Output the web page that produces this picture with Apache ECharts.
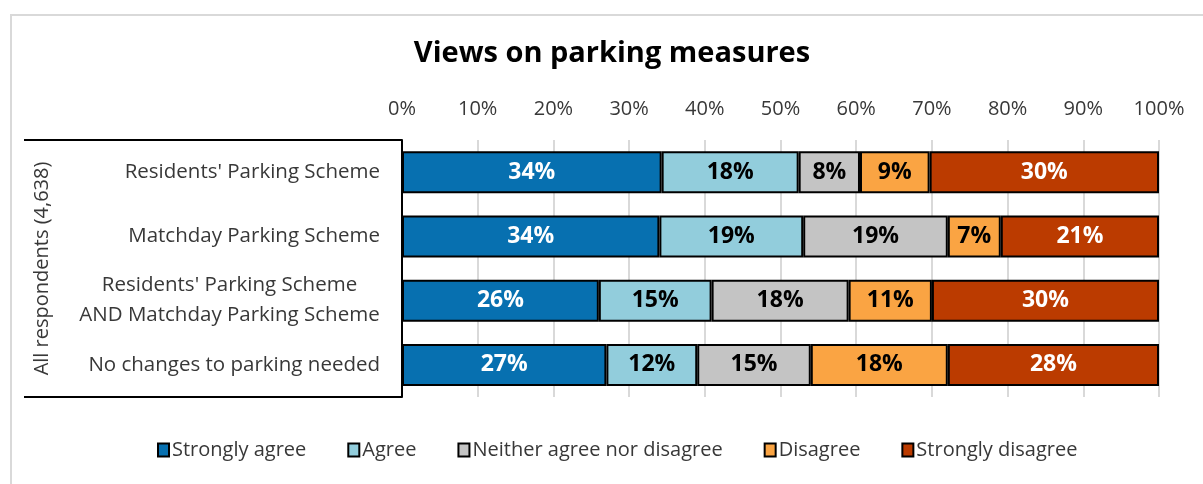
<!DOCTYPE html>
<html>
<head>
<meta charset="utf-8">
<title>Views on parking measures</title>
<script src="https://cdn.jsdelivr.net/npm/echarts@6/dist/echarts.min.js"></script>
<style>
  html, body { margin: 0; padding: 0; background: #fff; }
  #chart { width: 1203px; height: 484px; }
</style>
</head>
<body>
<div id="chart"></div>
<script>
const categories = [
  "Residents' Parking Scheme",
  'Matchday Parking Scheme',
  "Residents' Parking Scheme\nAND Matchday Parking Scheme",
  'No changes to parking needed'
];
const groupLabel = 'All respondents (4,638)';
const responses = ['Strongly agree', 'Agree', 'Neither agree nor disagree', 'Disagree', 'Strongly disagree'];

// percentages per response, one value per category (top to bottom)
const stronglyAgree = [34.3, 34.0, 26.0, 27.0];
const agree = [18.1, 19.0, 14.9, 12.0];
const neither = [8.1, 19.1, 18.1, 15.0];
const disagree = [9.2, 7.0, 11.0, 18.1];
const stronglyDisagree = [30.3, 20.9, 30.0, 27.9];

const xTicks = { min: 0, max: 100, interval: 10 };

const FONT = '"Open Sans", "Noto Sans", sans-serif';
const TEXT = '#383838';
const LABEL_SIZE = 20.5;
const colors = ['#0770B0', '#92CDDC', '#C4C4C4', '#FAA443', '#BB3B00'];
const labelColors = ['#ffffff', '#000000', '#000000', '#000000', '#ffffff'];

// width of the longest line so multi-line labels are centred in a right-aligned block
function textWidth(str, size) {
  const ctx = document.createElement('canvas').getContext('2d');
  ctx.font = size + 'px ' + FONT;
  return Math.ceil(ctx.measureText(str).width);
}

function initChart() {
  const chart = echarts.init(document.getElementById('chart'));
  const seriesData = [stronglyAgree, agree, neither, disagree, stronglyDisagree];

  const multiWidth = Math.max(...categories
    .filter(c => c.includes('\n'))
    .flatMap(c => c.split('\n'))
    .map(l => textWidth(l, LABEL_SIZE)), 0);

  const series = responses.map((name, i) => ({
    name,
    type: 'bar',
    stack: 'total',
    barWidth: 42,
    data: seriesData[i],
    itemStyle: {
      color: colors[i],
      borderColor: '#000',
      borderWidth: 2
    },
    label: {
      show: true,
      position: 'inside',
      formatter: p => Math.round(p.value) + '%',
      color: labelColors[i],
      fontFamily: FONT,
      fontWeight: 'bold',
      fontSize: 23
    },
    emphasis: { disabled: true }
  }));

  const option = {
    backgroundColor: '#fff',
    animation: false,
    title: {
      text: 'Views on parking measures',
      left: 607,
      textAlign: 'center',
      top: 34,
      textStyle: {
        color: '#000',
        fontFamily: FONT,
        fontWeight: 'bold',
        fontSize: 29
      }
    },
    legend: {
      data: responses,
      left: 152,
      top: 435,
      itemWidth: 11,
      itemHeight: 13,
      itemGap: 41,
      icon: 'rect',
      textStyle: { color: TEXT, fontFamily: FONT, fontSize: 20, padding: [0, 0, 0, -2] }
    },
    grid: {
      left: 402,
      right: 44,
      top: 140,
      height: 257,
      containLabel: false
    },
    xAxis: {
      type: 'value',
      position: 'top',
      min: xTicks.min,
      max: xTicks.max,
      interval: xTicks.interval,
      axisLine: { show: false },
      axisTick: { show: false },
      axisLabel: {
        formatter: '{value}%',
        color: TEXT,
        fontFamily: FONT,
        fontSize: 20,
        margin: 21
      },
      splitLine: { lineStyle: { color: '#d9d9d9', width: 2 } }
    },
    yAxis: {
      type: 'category',
      inverse: true,
      data: categories,
      name: groupLabel,
      nameLocation: 'middle',
      nameRotate: 90,
      nameGap: 350,
      nameTextStyle: { color: TEXT, fontFamily: FONT, fontSize: 20 },
      axisLine: { show: true, lineStyle: { color: '#000', width: 2 } },
      axisTick: { show: false },
      axisLabel: {
        margin: 22,
        color: TEXT,
        fontFamily: FONT,
        fontSize: LABEL_SIZE,
        formatter: v => v.includes('\n')
          ? v.split('\n').map(l => '{c|' + l + '}').join('\n')
          : v,
        rich: {
          c: {
            width: multiWidth,
            align: 'center',
            color: TEXT,
            fontFamily: FONT,
            fontSize: LABEL_SIZE,
            lineHeight: 30
          }
        }
      }
    },
    graphic: [
      // light outer frame
      {
        type: 'rect',
        shape: { x: 11, y: 15, width: 1400, height: 600 },
        style: { fill: 'none', stroke: '#d9d9d9', lineWidth: 2 },
        silent: true
      },
      // group bracket: top and bottom rules
      {
        type: 'line',
        shape: { x1: 24, y1: 140, x2: 402, y2: 140 },
        style: { stroke: '#000', lineWidth: 2 },
        silent: true
      },
      {
        type: 'line',
        shape: { x1: 24, y1: 397, x2: 402, y2: 397 },
        style: { stroke: '#000', lineWidth: 2 },
        silent: true
      }
    ],
    series
  };

  chart.setOption(option);
}

document.addEventListener('DOMContentLoaded', initChart);
</script>
</body>
</html>
